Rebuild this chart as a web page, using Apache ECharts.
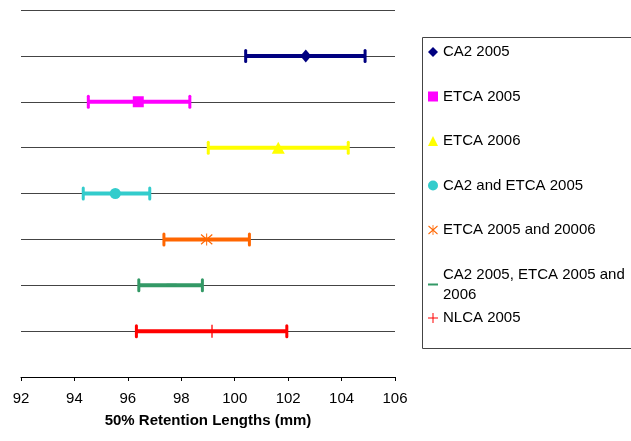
<!DOCTYPE html>
<html>
<head>
<meta charset="utf-8">
<script src="https://cdn.jsdelivr.net/npm/echarts@6/dist/echarts.min.js"></script>
<style>
  html, body { margin: 0; padding: 0; background: #fff; }
  #main { width: 631px; height: 441px; }
</style>
</head>
<body>
<div id="main"></div>
<script>
// groups, top row first
var groupNames = ['CA2 2005', 'ETCA 2005', 'ETCA 2006', 'CA2 and ETCA 2005',
    'ETCA 2005 and 20006', 'CA2 2005, ETCA 2005 and 2006', 'NLCA 2005'];
var rowPos = [7, 6, 5, 4, 3, 2, 1];
var lowValues = [100.41, 94.52, 99.01, 94.33, 97.35, 96.41, 96.32];
var meanValues = [102.66, 96.39, 101.63, 95.53, 98.95, 97.64, 99.15];
var highValues = [104.88, 98.32, 104.25, 96.82, 100.55, 98.79, 101.95];
var xTicks = [92, 94, 96, 98, 100, 102, 104, 106];

var colors = ['#000080', '#FF00FF', '#FFFF00', '#33CCCC', '#FF6600', '#339966', '#FF0000'];
var starPath = 'path://M4.6,0h0.8v10h-0.8z M0.2,1.4L0.8,0.6L9.8,8.6L9.2,9.4z M9.2,0.6L9.8,1.4L0.8,9.4L0.2,8.6z';
var dashPath = 'path://M0,0h10v2h-10z';
var plusPath = 'path://M4.5,0h1v10h-1z M0,4.5h10v1h-10z';
var symbols = ['diamond', 'rect', 'triangle', 'circle', starPath, dashPath, plusPath];
var symbolSizes = [[11, 13], 11, [13, 12], 11, 12, [10, 3], 13];
var legendIcons = ['diamond', 'rect', 'triangle', 'circle', starPath, 'path://M0,4h10v2h-10z', plusPath];

var font = 'Liberation Sans, Arial, sans-serif';

function renderBar(params, api) {
    var y = api.value(2);
    var a = api.coord([api.value(0), y]);
    var b = api.coord([api.value(1), y]);
    var c = api.visual('color');
    return {
        type: 'group',
        children: [
            { type: 'line', shape: { x1: a[0], y1: a[1], x2: b[0], y2: b[1] }, style: { stroke: c, lineWidth: 4 } },
            { type: 'line', shape: { x1: a[0], y1: a[1] - 5.5, x2: a[0], y2: a[1] + 5.5 }, style: { stroke: c, lineWidth: 3, lineCap: 'round' } },
            { type: 'line', shape: { x1: b[0], y1: b[1] - 5.5, x2: b[0], y2: b[1] + 5.5 }, style: { stroke: c, lineWidth: 3, lineCap: 'round' } }
        ]
    };
}

var series = [];
groupNames.forEach(function (name, i) {
    series.push({
        name: name + ' range',
        type: 'custom',
        renderItem: renderBar,
        color: colors[i],
        encode: { x: [0, 1], y: 2 },
        data: [[lowValues[i], highValues[i], rowPos[i]]],
        z: 2
    });
    series.push({
        name: name,
        type: 'scatter',
        color: colors[i],
        itemStyle: { opacity: 1 },
        symbol: symbols[i],
        symbolSize: symbolSizes[i],
        data: [[meanValues[i], rowPos[i]]],
        z: 3
    });
});

function legendItems(from, to) {
    var out = [];
    for (var i = from; i < to; i++) {
        out.push({ name: groupNames[i], icon: legendIcons[i], itemStyle: { color: colors[i], opacity: 1 } });
    }
    return out;
}

var legendText = { fontFamily: font, fontSize: 15, color: '#000', lineHeight: 20 };

var chart = echarts.init(document.getElementById('main'), null, { renderer: 'canvas' });
chart.setOption({
    animation: false,
    grid: { left: 21, right: 236, top: 10, bottom: 64 },
    xAxis: {
        type: 'value',
        min: xTicks[0],
        max: xTicks[xTicks.length - 1],
        interval: 2,
        name: '50% Retention Lengths (mm)',
        nameLocation: 'middle',
        nameGap: 36,
        nameTextStyle: { fontFamily: font, fontSize: 15, fontWeight: 'bold', color: '#000' },
        axisLine: { lineStyle: { color: '#000', width: 1 } },
        axisTick: { inside: false, length: 4, lineStyle: { color: '#000' } },
        axisLabel: { fontFamily: font, fontSize: 15, color: '#000', margin: 14 },
        splitLine: { show: false }
    },
    yAxis: {
        type: 'value',
        min: 0,
        max: 8,
        interval: 1,
        axisLine: { show: false },
        axisTick: { show: false },
        axisLabel: { show: false },
        splitLine: { lineStyle: { color: '#444', width: 1 } }
    },
    legend: [
        {
            orient: 'vertical',
            left: 428,
            top: 42,
            padding: 0,
            itemWidth: 10,
            itemHeight: 10,
            itemGap: 24.5,
            selectedMode: false,
            textStyle: legendText,
            formatter: function (n) {
                return n === groupNames[5] ? 'CA2 2005, ETCA 2005 and\n2006' : n;
            },
            data: legendItems(0, 6)
        },
        {
            orient: 'vertical',
            left: 428,
            top: 308,
            padding: 0,
            itemWidth: 10,
            itemHeight: 10,
            selectedMode: false,
            textStyle: legendText,
            data: legendItems(6, 7)
        }
    ],
    graphic: [{
        type: 'rect',
        shape: { x: 422.5, y: 37.5, width: 230, height: 311 },
        style: { fill: 'none', stroke: '#444', lineWidth: 1 },
        silent: true
    }],
    series: series
});
</script>
</body>
</html>
